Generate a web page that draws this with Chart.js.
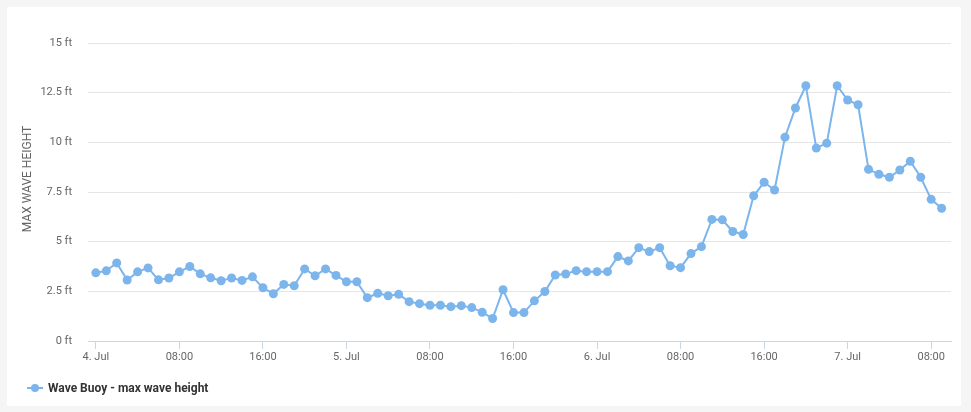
<!DOCTYPE html>
<html>
<head>
<meta charset="utf-8">
<script src="https://cdn.jsdelivr.net/npm/chart.js@4.4.0/dist/chart.umd.min.js"></script>
<style>
  html, body { margin: 0; padding: 0; }
  body { width: 971px; height: 412px; background: #f5f5f5; position: relative; overflow: hidden; font-family: Roboto, "Noto Sans", sans-serif; }
  #panel { position: absolute; left: 7px; top: 7px; width: 954px; height: 399px; background: #fff; }
  #waveChart { position: absolute; left: 0; top: 0; }
  #legend { position: absolute; left: 27px; top: 380px; height: 16px; display: flex; align-items: center; font-size: 12px; font-weight: bold; color: #333; }
  #legend .sym { position: relative; width: 16px; height: 16px; margin-right: 5px; }
  #legend .sym .ln { position: absolute; left: 0; top: 7px; width: 16px; height: 2px; background: #7cb5ec; }
  #legend .sym .dot { position: absolute; left: 4px; top: 4px; width: 8px; height: 8px; border-radius: 50%; background: #7cb5ec; }
</style>
</head>
<body>
<div id="panel"></div>
<canvas id="waveChart" width="971" height="412"></canvas>
<div id="legend"><span class="sym"><span class="ln"></span><span class="dot"></span></span>Wave Buoy - max wave height</div>
<script>
// hourly max wave height (ft), starting 4 Jul 00:00
const waveHeights = [
  3.43, 3.53, 3.93, 3.07, 3.48, 3.68, 3.08, 3.17, 3.48, 3.75,
  3.38, 3.18, 3.03, 3.17, 3.05, 3.23, 2.68, 2.38, 2.85, 2.78,
  3.63, 3.28, 3.63, 3.30, 2.98, 2.98, 2.18, 2.40, 2.28, 2.35,
  1.98, 1.88, 1.80, 1.80, 1.73, 1.78, 1.68, 1.45, 1.13, 2.58,
  1.43, 1.43, 2.02, 2.49, 3.32, 3.37, 3.54, 3.49, 3.49, 3.49,
  4.25, 4.03, 4.70, 4.50, 4.70, 3.79, 3.69, 4.40, 4.75, 6.12,
  6.10, 5.51, 5.36, 7.31, 7.99, 7.60, 10.26, 11.73, 12.85, 9.71,
  9.96, 12.85, 12.13, 11.89, 8.64, 8.39, 8.24, 8.61, 9.05, 8.24,
  7.13, 6.68
];
const xTickHours = [0, 8, 16, 24, 32, 40, 48, 56, 64, 72, 80];
const xTickLabels = ['4. Jul', '08:00', '16:00', '5. Jul', '08:00', '16:00', '6. Jul', '08:00', '16:00', '7. Jul', '08:00'];
const yTitle = 'MAX WAVE HEIGHT';

const lineColor = '#7cb5ec';

// y axis title, placed like the original
const yTitlePlugin = {
  id: 'yTitlePlugin',
  afterDraw(chart) {
    const ctx = chart.ctx;
    ctx.save();
    ctx.translate(28, 179);
    ctx.rotate(-Math.PI / 2);
    ctx.font = '12px Roboto';
    ctx.fillStyle = '#666';
    ctx.textAlign = 'center';
    ctx.textBaseline = 'middle';
    ctx.fillText(yTitle, 0, 0);
    ctx.restore();
  }
};

const ctx = document.getElementById('waveChart').getContext('2d');
const chart = new Chart(ctx, {
  type: 'line',
  data: {
    datasets: [{
      label: 'Wave Buoy - max wave height',
      data: waveHeights.map((v, i) => ({ x: i, y: v })),
      borderColor: lineColor,
      backgroundColor: lineColor,
      borderWidth: 2,
      pointRadius: 4.5,
      pointBorderWidth: 0,
      pointBackgroundColor: lineColor,
      tension: 0
    }]
  },
  options: {
    responsive: false,
    animation: false,
    devicePixelRatio: 1,
    layout: { padding: { left: 0, top: 43, right: 20, bottom: 41 } },
    plugins: {
      legend: { display: false },
      tooltip: { enabled: false }
    },
    scales: {
      x: {
        type: 'linear',
        min: -0.75,
        max: 81.9,
        afterBuildTicks: axis => { axis.ticks = xTickHours.map(h => ({ value: h })); },
        afterFit: axis => { axis.height = 30; },
        grid: { display: true, drawOnChartArea: false, drawTicks: true, tickLength: 8, tickColor: '#ccd6eb' },
        border: { display: true, color: '#ccd6eb', width: 1 },
        ticks: {
          autoSkip: false,
          maxRotation: 0,
          padding: 2,
          color: '#666',
          font: { family: 'Roboto', size: 11 },
          callback: (value, index) => xTickLabels[index]
        }
      },
      y: {
        min: 0,
        max: 15,
        afterFit: axis => { axis.width = 88; },
        grid: { color: '#e6e6e6', drawTicks: false },
        border: { display: false },
        ticks: {
          stepSize: 2.5,
          padding: 16,
          color: '#666',
          font: { family: 'Roboto', size: 11 },
          callback: v => v + ' ft'
        }
      }
    }
  },
  plugins: [yTitlePlugin]
});
</script>
</body>
</html>
